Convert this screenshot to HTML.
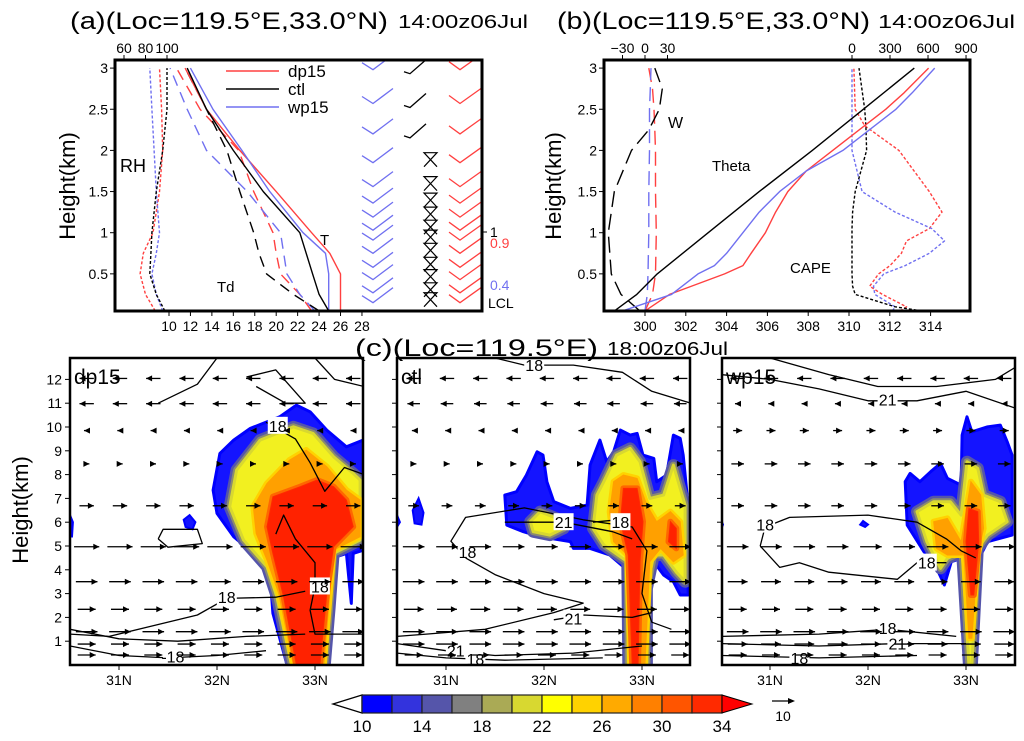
<!DOCTYPE html>
<html><head><meta charset="utf-8"><style>
html,body{margin:0;padding:0;background:#fff}
svg{display:block;font-family:"Liberation Sans",sans-serif}
</style></head><body>
<svg id="fig" width="1024" height="741" viewBox="0 0 1024 741" xmlns="http://www.w3.org/2000/svg">
<defs>
<clipPath id="clipA"><rect x="115" y="60" width="367" height="251"/></clipPath>
<clipPath id="clipB"><rect x="604" y="60" width="366" height="251"/></clipPath>
<clipPath id="clipC0"><rect x="70" y="358" width="293" height="307"/></clipPath>
<clipPath id="clipC1"><rect x="397" y="358" width="293" height="307"/></clipPath>
<clipPath id="clipC2"><rect x="722" y="358" width="293" height="307"/></clipPath>
</defs>
<text x="70" y="29" font-size="24" textLength="318" lengthAdjust="spacingAndGlyphs">(a)(Loc=119.5°E,33.0°N)</text>
<text x="398" y="28" font-size="18" textLength="130" lengthAdjust="spacingAndGlyphs">14:00z06Jul</text>
<text x="557" y="29" font-size="24" textLength="313" lengthAdjust="spacingAndGlyphs">(b)(Loc=119.5°E,33.0°N)</text>
<text x="878" y="28" font-size="18" textLength="137" lengthAdjust="spacingAndGlyphs">14:00z06Jul</text>
<text x="355" y="356" font-size="24" textLength="243" lengthAdjust="spacingAndGlyphs">(c)(Loc=119.5°E)</text>
<text x="607" y="355" font-size="18" textLength="121" lengthAdjust="spacingAndGlyphs">18:00z06Jul</text>
<g id="layer"></g>
</svg>
<script>
// ---------- Panel (a) data ----------
const hA = [0.05,0.25,0.5,0.75,1,1.5,2,2.5,3];
const T_ctl  = [24.9,24.0,23.4,22.8,22.2,18.8,16.0,13.5,11.7];
const T_dp15 = [26.0,26.0,26.0,25.0,23.3,20.0,16.6,13.5,11.5];
const T_wp15 = [24.9,24.9,24.9,24.6,22.5,19.4,16.8,14.1,12.0];
const Td_ctl  = [24.0,21.6,19.1,18.4,17.9,16.6,15.4,13.5,11.5];
const Td_dp15 = [23.3,22.2,20.4,20.0,19.7,17.9,16.5,12.9,10.7];
const Td_wp15 = [23.6,22.2,21.0,20.7,20.4,17.3,13.5,11.7,10.1];
const RH_ctl  = [98,90,84,85,86,90,96,100,100];
const RH_dp15 = [89,80,75,78,87,93,96,95,93];
const RH_wp15 = [96,90,86,90,93,90,88,86,84];
const barbH = [2.98,2.57,2.2,1.85,1.56,1.36,1.19,1.03,0.91,0.75,0.58,0.43,0.27,0.15];
const tTicks = [10,12,14,16,18,20,22,24,26,28];
const rhTicks = [60,80,100];
const hTicks = [0.5,1,1.5,2,2.5,3];
// ---------- Panel (b) data ----------
const hTh_ctl = [0.05,0.25,0.5,1,1.5,2,2.5,3];
const Th_ctl  = [298.5,299.6,300.6,303.1,305.6,308.2,310.7,313.2];
const hTh = [0.05,0.25,0.5,0.6,0.75,1,1.25,1.5,1.75,2,2.5,2.7,3];
const Th_dp15 = [300.0,301.2,303.9,304.8,305.2,305.9,306.4,307.0,307.9,309.2,311.8,312.7,313.9];
const Th_wp15 = [298.9,301.3,302.6,303.4,304.0,304.8,305.6,306.6,307.9,309.7,312.3,313.1,314.2];
const hW = [0.05,0.25,0.5,1,1.5,2,2.25,2.5,2.75,3];
const W_ctl  = [-7,-32,-45,-49,-41,-18,5,19,23,13];
const W_dp15 = [0,10,14,15,14,14,13,12,10,5];
const W_wp15 = [0,3,4,5,5,6,6,6,7,8];
const hCape = [0.05,0.1,0.25,0.35,0.5,0.6,0.75,0.9,1.05,1.25,1.5,2,2.3,2.5,3];
const CAPE_ctl  = [550,340,25,5,0,0,0,0,0,5,25,115,110,100,55];
const CAPE_dp15 = [380,430,240,140,210,300,390,430,610,710,610,370,100,25,15];
const CAPE_wp15 = [320,340,180,170,250,420,610,730,630,340,80,0,0,0,0];
const thTicks = [300,302,304,306,308,310,312,314];
const wTicks = [-30,0,30];
const capeTicks = [0,300,600,900];
// ---------- Panel (c) data ----------
const panels = ["dp15","ctl","wp15"];
const latTicks = [31,32,33];
const kmTicks = [1,2,3,4,5,6,7,8,9,10,11,12];
const vecRows = [12.04,10.98,9.85,8.45,6.69,4.97,3.5,2.34,1.4,0.88,0.42];
const vecCols = [30.67,31.01,31.35,31.69,32.03,32.37,32.71,33.05,33.39];
const U_dp15 = [-8,-8,-3,3,8,14,12,10,12,10,10];
const U_ctl  = [-8,-7,-2,3,6,12,12,11,12,12,10];
const U_wp15 = [-8,-3,5,7,7,12,11,10,12,11,10];
const cbLevels = [10,12,14,16,18,20,22,24,26,28,30,32,34];
const cbLabels = [10,14,18,22,26,30,34];
const shade = [
 { blue:[[32.71,0.07],[32.57,2.17],[32.54,3.85],[32.37,4.69],[32.17,5.39],[32.0,6.37],[31.96,7.35],[32.03,8.89],[32.17,9.45],[32.34,9.94],[32.64,10.43],[32.81,10.92],[32.95,10.64],[33.12,9.87],[33.32,9.17],[33.49,9.45],[33.55,9.4],[33.55,4.9],[33.39,4.69],[33.37,2.59],[33.32,4.69],[33.22,4.55],[33.19,3.01],[33.15,1.05],[33.14,0.0],[32.71,0.0]],
   yel:[[32.76,0.0],[32.61,2.87],[32.51,4.13],[32.27,5.25],[32.13,6.65],[32.2,8.19],[32.44,9.45],[32.78,10.01],[32.98,9.73],[33.19,8.75],[33.39,8.05],[33.46,7.77],[33.46,5.25],[33.19,4.69],[33.15,2.45],[33.1,0.0]],
   org:[[32.78,0.0],[32.63,3.01],[32.51,4.41],[32.4,5.53],[32.37,6.65],[32.51,7.63],[32.74,8.61],[32.91,9.03],[33.12,8.33],[33.32,7.35],[33.46,6.93],[33.46,5.39],[33.19,4.83],[33.14,2.45],[33.09,0.0]],
   red:[[32.81,0.0],[32.68,2.87],[32.57,4.69],[32.51,5.81],[32.57,7.07],[32.85,7.49],[33.02,7.77],[33.19,7.49],[33.32,6.93],[33.39,5.81],[33.19,4.97],[33.12,3.01],[33.05,0.0]],
   extra:[[[31.72,6.3],[31.78,6.0],[31.75,5.7],[31.68,5.8],[31.66,6.1]],[[30.5,6.3],[30.53,6.0],[30.52,5.4],[30.5,5.4]]] },
 { blue:[[31.6,7.14],[31.72,7.28],[31.82,7.98],[31.93,8.96],[31.99,8.82],[32.03,7.7],[32.1,6.86],[32.27,6.58],[32.44,6.72],[32.47,8.4],[32.57,9.45],[32.64,8.54],[32.71,8.96],[32.78,9.87],[32.88,9.66],[32.95,9.73],[33.01,8.82],[33.12,8.68],[33.15,7.7],[33.25,7.98],[33.32,9.66],[33.39,9.52],[33.42,8.82],[33.47,6.72],[33.47,2.94],[33.39,2.94],[33.32,3.5],[33.22,3.78],[33.12,4.34],[33.08,3.22],[33.06,0.0],[32.84,0.0],[32.83,4.06],[32.67,4.62],[32.47,4.9],[32.3,4.9],[32.27,5.18],[31.96,5.39],[31.79,5.6],[31.62,5.88]],
   yel:[[32.54,7.14],[32.61,7.7],[32.74,8.82],[32.88,9.1],[32.98,8.54],[33.08,7.0],[33.22,7.14],[33.32,8.4],[33.39,7.42],[33.44,6.72],[33.44,3.5],[33.35,3.9],[33.22,4.62],[33.12,4.62],[33.05,3.22],[33.05,0.0],[32.86,0.0],[32.85,4.34],[32.61,5.04],[32.5,5.74]],
   org:[[32.71,7.7],[32.81,7.98],[32.95,7.84],[33.05,6.72],[33.15,6.02],[33.29,6.44],[33.39,6.02],[33.42,4.62],[33.32,4.34],[33.19,4.9],[33.08,4.34],[33.03,0.0],[32.88,0.0],[32.85,4.62],[32.71,5.18],[32.67,6.44]],
   red:[[32.81,7.42],[32.95,7.42],[33.01,6.02],[32.98,4.34],[32.96,0.0],[32.9,0.0],[32.86,4.62],[32.78,6.02]],
   extra:[[[30.72,7.0],[30.77,6.4],[30.75,5.9],[30.68,5.95],[30.66,6.5]],[[30.5,6.3],[30.53,6.0],[30.5,5.8]]],
   yel2:[[31.86,6.02],[31.96,6.44],[32.13,6.16],[32.2,5.74],[32.06,5.46],[31.89,5.6]],
   red2:[[33.29,6.02],[33.35,5.74],[33.35,4.9],[33.27,5.18]] },
 { blue:[[32.38,7.7],[32.43,8.05],[32.53,7.7],[32.64,8.12],[32.74,8.47],[32.81,7.84],[32.95,7.56],[32.96,9.66],[33.01,10.43],[33.06,9.8],[33.22,10.01],[33.35,10.08],[33.42,9.38],[33.47,8.82],[33.47,5.46],[33.22,5.18],[33.15,4.62],[33.1,0.0],[33.01,0.0],[32.95,4.48],[32.85,4.34],[32.78,3.36],[32.67,4.34],[32.57,4.76],[32.4,5.88]],
   yel:[[32.5,6.44],[32.67,6.86],[32.84,6.86],[32.95,6.3],[33.01,8.54],[33.12,8.26],[33.18,7.14],[33.35,6.86],[33.42,6.02],[33.22,5.46],[33.12,4.9],[33.06,0.0],[33.03,0.0],[32.96,4.76],[32.81,4.48],[32.74,4.06],[32.6,5.18]],
   org:[[32.67,6.02],[32.81,6.16],[32.95,5.18],[33.05,7.7],[33.15,7.14],[33.18,5.74],[33.12,4.62],[33.06,1.12],[33.03,1.12],[32.98,4.62],[32.81,4.62],[32.7,4.9]],
   red:[[33.03,6.58],[33.12,6.44],[33.13,5.18],[33.08,2.94],[33.05,2.94],[33.0,5.18]],
   extra:[[[31.95,6.05],[32.0,5.9],[31.97,5.8],[31.92,5.9]],[[30.5,6.1],[30.52,5.9],[30.5,5.7]]] }
];
const contours = [
 [ {p:[[30.5,1.3],[30.9,1.2],[31.3,1.6],[31.8,2.1],[32.1,2.8],[32.6,2.85],[32.9,3.1]],l:[32.1,2.85,"18"]},
   {p:[[32.5,10.2],[32.8,9.5],[32.95,8.5],[33.1,7.3],[33.3,8.3],[33.5,8.0]],l:[32.62,10.05,"18"]},
   {p:[[32.6,5.5],[32.68,6.3],[32.8,5.3],[33.0,4.3],[33.0,3.3],[32.95,2.3],[33.0,1.3],[33.5,1.3]],l:[33.05,3.3,"18"]},
   {p:[[31.4,5.3],[31.45,5.7],[31.8,5.7],[31.85,5.1],[31.5,4.95],[31.4,5.3]]},
   {p:[[30.5,0.8],[31.0,0.4],[31.5,0.3],[32.0,0.4],[32.5,0.6]],l:[31.55,0.35,"-18"]},
   {p:[[30.5,1.5],[31.0,1.1],[31.6,1.0],[32.3,1.2],[32.9,1.3]]},
   {p:[[31.4,11.0],[31.8,11.8],[32.0,12.9]]},
   {p:[[32.3,12.1],[32.6,12.4],[32.9,11.0],[32.7,11.0],[32.4,11.7]]},
   {p:[[33.0,12.9],[33.2,12.0],[33.5,11.7]]} ],
 [ {p:[[31.2,4.5],[31.05,5.2],[31.2,6.2],[31.8,6.6],[32.4,6.1],[32.9,5.8],[33.05,4.8],[33.0,3.0],[33.1,1.8],[33.3,1.5]],l:[31.22,4.75,"18"]},
   {p:[[31.6,6.0],[32.2,6.0],[32.7,5.6],[32.9,5.3]],l:[32.2,6.0,"21"]},
   {p:[[32.5,6.0],[32.75,6.1]],l:[32.78,6.0,"18"]},
   {p:[[31.2,4.5],[31.5,3.8],[32.0,3.0],[32.4,2.6],[32.1,2.2],[31.4,1.5],[30.8,1.3],[30.5,1.2]]},
   {p:[[30.5,0.9],[31.0,0.6],[31.5,0.4],[32.3,0.5],[33.0,0.8]],l:[31.1,0.6,"21"]},
   {p:[[30.5,0.5],[31.0,0.3],[31.6,0.2],[32.6,0.3]],l:[31.3,0.25,"18"]},
   {p:[[32.1,1.9],[32.4,2.1],[32.9,2.0],[33.1,2.2]],l:[32.3,1.95,"21"]},
   {p:[[31.5,12.9],[31.8,12.6],[32.3,12.6],[32.8,12.3],[33.1,11.5],[33.5,11.0]],l:[31.9,12.6,"18"]} ],
 [ {p:[[30.5,12.2],[31.0,12.0],[31.5,11.6],[32.0,11.1],[32.5,11.1],[33.0,11.5],[33.5,10.8]],l:[32.2,11.15,"21"]},
   {p:[[31.0,12.9],[31.6,12.2],[32.1,11.7],[32.7,11.7],[33.3,12.0],[33.5,12.5]]},
   {p:[[30.9,5.0],[30.95,5.8],[31.2,6.2],[32.0,6.3],[32.5,6.0],[32.8,5.3],[32.95,4.8],[33.1,4.5]],l:[30.95,5.9,"18"]},
   {p:[[30.9,5.0],[31.1,4.1],[31.3,4.3],[31.6,3.9],[32.3,3.6],[32.5,4.3],[32.8,4.3]],l:[32.6,4.3,"18"]},
   {p:[[30.5,1.2],[31.5,1.3],[32.2,1.5],[32.9,1.2]],l:[32.2,1.55,"18"]},
   {p:[[30.5,0.9],[31.5,0.8],[32.3,0.9],[33.0,0.9]],l:[32.3,0.9,"21"]},
   {p:[[30.5,0.4],[31.5,0.3],[32.5,0.4]],l:[31.3,0.3,"18"]} ]
];

const NS="http://www.w3.org/2000/svg";
const layer=document.getElementById('layer');
function mk(tag,attrs,parent){const e=document.createElementNS(NS,tag);for(const k in attrs)e.setAttribute(k,attrs[k]);(parent||layer).appendChild(e);return e;}
function txt(x,y,s,size,anchor,fill,parent){const t=mk('text',{x:x,y:y,'font-size':size,'text-anchor':anchor||'start',fill:fill||'#000'},parent);t.textContent=s;return t;}
function pts(a){return a.map(p=>p[0].toFixed(1)+','+p[1].toFixed(1)).join(' ');}

// ---------- Panel (a) ----------
const yA=h=>315-h*82.3, xT=t=>169+(t-10)*10.72, xRH=r=>124+(r-60)*1.075;
const gA=mk('g',{'clip-path':'url(#clipA)'});


function serA(xs,xf,color,dash,name,w){const e=mk('polyline',{points:pts(hA.map((h,i)=>[xf(xs[i]),yA(h)])),fill:'none',stroke:color,'stroke-width':w||1.4,'stroke-dasharray':dash||'none','stroke-linejoin':'round'},gA);

}
serA(RH_dp15,xRH,'#ff4040','3,2','rh-dp15');serA(RH_wp15,xRH,'#7070f0','3,2','rh-wp15');serA(RH_ctl,xRH,'#000','3,2','rh-ctl');
serA(Td_dp15,xT,'#ff4040','11,7','td-dp15');serA(Td_wp15,xT,'#7070f0','11,7','td-wp15');serA(Td_ctl,xT,'#000','11,7','td-ctl');
serA(T_dp15,xT,'#ff4040',null,'t-dp15');serA(T_wp15,xT,'#7070f0',null,'t-wp15');serA(T_ctl,xT,'#000',null,'t-ctl');
barbH.forEach((h,i)=>{const y=yA(h);
 let b=mk('polyline',{points:pts([[362,y-7],[373,y],[393,y-15]]),fill:'none',stroke:'#7070f0','stroke-width':1.3},gA);
 
 
 let r=mk('polyline',{points:pts([[449,y-8],[460,y],[481,y-15]]),fill:'none',stroke:'#ff4040','stroke-width':1.3},gA);
 
 
 let k;
 if(h>2){k=mk('polyline',{points:pts([[404,y+2],[410,y+4],[426,y-10]]),fill:'none',stroke:'#000','stroke-width':1.3},gA);}
 else {k=mk('polyline',{points:pts([[424,y+4],[437,y-10],[424,y-10],[437,y+4]]),fill:'none',stroke:'#000','stroke-width':1.2},gA);}
 
 
});
[[226,71,'#ff4040','dp15'],[226,89,'#000','ctl'],[226,107,'#7070f0','wp15']].forEach(l=>{
 let ln=mk('line',{x1:l[0],x2:l[0]+53,y1:l[1],y2:l[1],stroke:l[2],'stroke-width':1.5},gA);
 
 
 let t=txt(288,l[1]+6,l[3],17,'start','#000',gA);
 
 
});
txt(120,172,'RH',18);txt(320,245,'T',15);txt(217,292,'Td',15);
let fa=mk('rect',{x:115,y:60,width:367,height:251,fill:'none',stroke:'#000','stroke-width':3});


hTicks.forEach(h=>{mk('line',{x1:110,x2:115,y1:yA(h),y2:yA(h),stroke:'#000'});txt(108,yA(h)+5,String(h),14,'end');});
tTicks.forEach(t=>{mk('line',{x1:xT(t),x2:xT(t),y1:311,y2:316,stroke:'#000'});txt(xT(t),331,String(t),14,'middle');});
rhTicks.forEach(r=>{mk('line',{x1:xRH(r),x2:xRH(r),y1:55,y2:60,stroke:'#000'});txt(xRH(r),53,String(r),14,'middle');});
mk('line',{x1:482,x2:487,y1:232,y2:232,stroke:'#000'});
txt(490,237,'1',14);txt(490,248,'0.9',14,'start','#ff4040');txt(490,290,'0.4',14,'start','#7070f0');txt(488,308,'LCL',14);
let ya=txt(0,0,'Height(km)',22,'middle');ya.setAttribute('transform','translate(75,186) rotate(-90)');



// ---------- Panel (b) ----------
const xTh=t=>645+(t-300)*20.4, xW=w=>645+w*0.75, xC=c=>852+c*0.1267;
const gB=mk('g',{'clip-path':'url(#clipB)'});


function serB(hs,xs,xf,color,dash,name){const e=mk('polyline',{points:pts(hs.map((h,i)=>[xf(xs[i]),yA(h)])),fill:'none',stroke:color,'stroke-width':1.4,'stroke-dasharray':dash||'none','stroke-linejoin':'round'},gB);

}
serB(hCape,CAPE_dp15,xC,'#ff4040','3,2','cape-dp15');serB(hCape,CAPE_wp15,xC,'#7070f0','3,2','cape-wp15');serB(hCape,CAPE_ctl,xC,'#000','3,2','cape-ctl');
serB(hW,W_dp15,xW,'#ff4040','14,7','w-dp15');serB(hW,W_wp15,xW,'#7070f0','14,7','w-wp15');serB(hW,W_ctl,xW,'#000','16,7','w-ctl');
serB(hTh,Th_dp15,xTh,'#ff4040',null,'theta-dp15');serB(hTh,Th_wp15,xTh,'#7070f0',null,'theta-wp15');serB(hTh_ctl,Th_ctl,xTh,'#000',null,'theta-ctl');
txt(668,128,'W',16);txt(712,171,'Theta',15);txt(790,273,'CAPE',15);
let fb=mk('rect',{x:604,y:60,width:366,height:251,fill:'none',stroke:'#000','stroke-width':3});


hTicks.forEach(h=>{mk('line',{x1:599,x2:604,y1:yA(h),y2:yA(h),stroke:'#000'});txt(597,yA(h)+5,String(h),14,'end');});
thTicks.forEach(t=>{mk('line',{x1:xTh(t),x2:xTh(t),y1:311,y2:316,stroke:'#000'});txt(xTh(t),331,String(t),14,'middle');});
wTicks.forEach(w=>{mk('line',{x1:xW(w),x2:xW(w),y1:55,y2:60,stroke:'#000'});txt(xW(w),53,w<0?'\u2212'+(-w):String(w),14,'middle');});
capeTicks.forEach(c=>{mk('line',{x1:xC(c),x2:xC(c),y1:55,y2:60,stroke:'#000'});txt(xC(c),53,String(c),14,'middle');});
let yb=txt(0,0,'Height(km)',22,'middle');yb.setAttribute('transform','translate(561,186) rotate(-90)');



// ---------- Panel (c) ----------
const frames=[[70,363],[397,690],[722,1015]], x31=[119,446,770];
const yC=k=>665-k*23.8;
const Us=[U_dp15,U_ctl,U_wp15];
panels.forEach((name,p)=>{
 const xC2=lat=>x31[p]+(lat-31)*98;
 const g=mk('g',{'clip-path':'url(#clipC'+p+')'});
 
 
 const P=a=>pts(a.map(q=>[xC2(q[0]),yC(q[1])]));
 const s=shade[p];
 let e;
 e=mk('polygon',{points:P(s.blue),fill:'#1414ff',stroke:'#0000ff','stroke-width':3,'stroke-linejoin':'round'},g);
 
 
 s.extra.forEach(a=>{let x=mk('polygon',{points:P(a),fill:'#1414ff',stroke:'#0000ff','stroke-width':2},g);
  
  });
 const yl=[s.yel].concat(s.yel2?[s.yel2]:[]);
 yl.forEach(a=>{mk('polygon',{points:P(a),fill:'#5555aa',stroke:'#5555aa','stroke-width':12,'stroke-linejoin':'round'},g);
  mk('polygon',{points:P(a),fill:'#8a8a70',stroke:'#8a8a70','stroke-width':7,'stroke-linejoin':'round'},g);
  let y=mk('polygon',{points:P(a),fill:'#f2f020',stroke:'#d8d830','stroke-width':3,'stroke-linejoin':'round'},g);
  
  });
 mk('polygon',{points:P(s.org),fill:'#ffd200',stroke:'#ffd200','stroke-width':6,'stroke-linejoin':'round'},g);
 e=mk('polygon',{points:P(s.org),fill:'#ffa000',stroke:'#ffa000','stroke-width':1},g);
 
 
 const rl=[s.red].concat(s.red2?[s.red2]:[]);
 rl.forEach(a=>{mk('polygon',{points:P(a),fill:'#ff6600',stroke:'#ff6600','stroke-width':6,'stroke-linejoin':'round'},g);
  let r=mk('polygon',{points:P(a),fill:'#ff2200',stroke:'#ff2a00','stroke-width':1},g);
  
  });
 contours[p].forEach(c=>{
  let l=mk('polyline',{points:P(c.p),fill:'none',stroke:'#000','stroke-width':1.3,'stroke-linejoin':'round'},g);
  
  
  if(c.l){const lx=xC2(c.l[0]),ly=yC(c.l[1]);
   mk('rect',{x:lx-10,y:ly-9,width:20,height:17,fill:'#fff'},g);
   let t=txt(lx,ly+6,c.l[2],16,'middle','#000',g);
   
   }
 });
 vecRows.forEach((k,i)=>{vecCols.forEach(lat=>{
  const u=Us[p][i],L=u*1.8,x0=xC2(lat),y0=yC(k);
  const a=mk('line',{x1:x0-L/2,y1:y0,x2:x0+L/2,y2:y0,stroke:'#000','stroke-width':1.3},g);
  
  
  const d=Math.sign(u)||1,hx=x0+L/2;
  mk('polygon',{points:pts([[hx,y0],[hx-d*6,y0-3],[hx-d*6,y0+3]]),fill:'#000'},g);
 });});
 let f=mk('rect',{x:frames[p][0],y:358,width:frames[p][1]-frames[p][0],height:307,fill:'none',stroke:'#000','stroke-width':2.5});
 
 
 let lb=txt(frames[p][0]+4,384,name,21,'start','#000');
 
 
 kmTicks.forEach(k=>{mk('line',{x1:frames[p][0]-5,x2:frames[p][0],y1:yC(k),y2:yC(k),stroke:'#000'});
  if(p===0)txt(62,yC(k)+5,String(k),14,'end');});
 latTicks.forEach(lat=>{mk('line',{x1:xC2(lat),x2:xC2(lat),y1:665,y2:670,stroke:'#000'});txt(xC2(lat),685,lat+'N',14,'middle');});
});
let yc=txt(0,0,'Height(km)',22,'middle');yc.setAttribute('transform','translate(28,510) rotate(-90)');



// ---------- colorbar ----------
const cbColors=['#0000ff','#3333dd','#5555aa','#808080','#aaaa55','#d8d830','#ffff00','#ffd200','#ffaa00','#ff8000','#ff5500','#ff2a00'];
const cbX=v=>362+(v-10)*15;
const cb=mk('g',{});


mk('polygon',{points:'333,704 362,695 362,713',fill:'#fff',stroke:'#000','stroke-width':1.3},cb);
cbLevels.slice(0,-1).forEach((v,i)=>{const r=mk('rect',{x:cbX(v),y:695,width:cbX(cbLevels[i+1])-cbX(v),height:18,fill:cbColors[i],stroke:'#222','stroke-width':1.2},cb);
 
 });
mk('polygon',{points:'722,695 752,704 722,713',fill:'#ff0000',stroke:'#000','stroke-width':1},cb);
cbLabels.forEach(v=>txt(cbX(v),732,String(v),17,'middle','#000',cb));
mk('line',{x1:772,x2:792,y1:701,y2:701,stroke:'#000','stroke-width':1.3});
mk('polygon',{points:'795,701 788,698 788,704',fill:'#000'});
txt(783,721,'10',14,'middle');
</script>
</body></html>
